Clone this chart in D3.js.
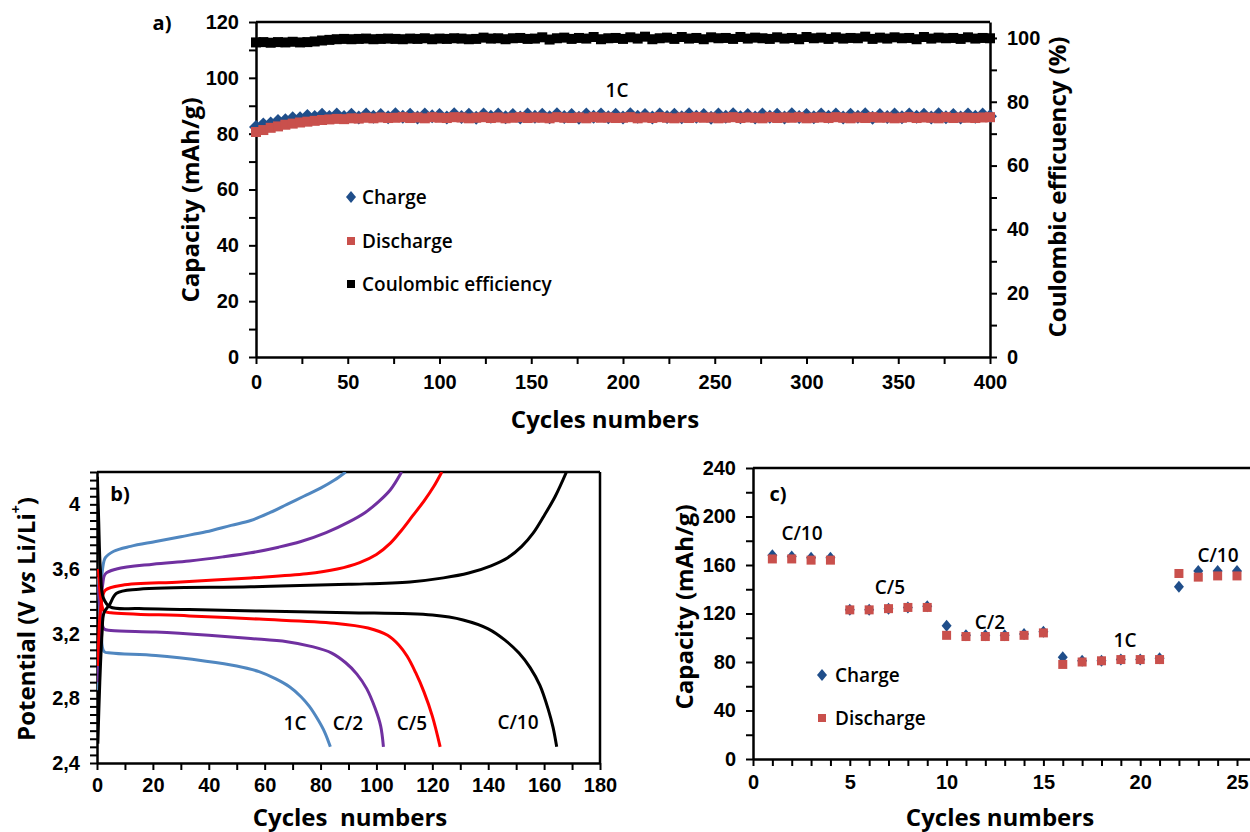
<!DOCTYPE html>
<html lang="en">
<head>
<meta charset="UTF-8">
<title>Capacity / potential charts</title>
<style>
body { margin: 0; background: #fff; }
svg { font-family: 'Open Sans', sans-serif; }
.axis .tick text { font-size: 20px; font-weight: 600; fill: #000; }
.axis path, .axis line { stroke: #000; }
.title { font-size: 24px; font-weight: 700; fill: #000; }
.lab { font-size: 19px; font-weight: 600; fill: #000; }
.panel { font-size: 20px; font-weight: 700; }
</style>
</head>
<body>
<svg id="chart" width="1250" height="832"></svg>
<script src="https://cdnjs.cloudflare.com/ajax/libs/d3/7.8.5/d3.min.js"></script>
<script>
// ---------- data: panel a (1C cycling, one value every 4 cycles) ----------
var cycleStepA = 4;
var chargeA = [
82.4, 83.3, 83.6, 84.5, 84.8, 85.5, 85.5, 86.3, 86.0, 86.8,
86.0, 86.9, 86.0, 86.8, 85.8, 86.9, 86.1, 86.7, 85.9, 87.0,
86.1, 86.8, 85.8, 86.9, 86.2, 86.7, 85.8, 87.0, 86.0, 86.8,
85.7, 86.9, 86.1, 86.9, 85.9, 86.7, 85.8, 86.9, 86.1, 86.8,
85.9, 87.0, 86.0, 86.7, 85.7, 86.9, 86.1, 86.9, 85.9, 86.8,
85.8, 87.0, 86.1, 86.7, 85.8, 86.9, 86.0, 86.8, 85.9, 87.0,
86.1, 86.7, 85.7, 86.9, 86.1, 87.0, 85.9, 86.7, 85.8, 86.9,
86.1, 86.8, 85.8, 87.0, 86.0, 86.7, 85.9, 86.9, 86.1, 86.9,
85.8, 86.8, 86.1, 87.0, 85.7, 86.7, 86.0, 86.9, 85.9, 86.9,
86.1, 86.8, 85.8, 87.0, 85.9, 86.7, 85.8, 86.9, 86.1, 86.9,
86.2];
var dischargeA = [
80.6, 81.3, 82.1, 82.6, 83.2, 83.6, 84.0, 84.3, 84.6, 84.9,
85.1, 85.3, 85.2, 85.5, 85.4, 85.7, 85.5, 85.8, 85.6, 85.7,
85.9, 85.6, 85.8, 85.5, 85.9, 85.7, 85.6, 85.9, 85.8, 85.5,
85.7, 85.9, 85.6, 85.8, 85.5, 85.7, 85.9, 85.6, 85.8, 85.7,
85.5, 85.9, 85.7, 85.6, 85.8, 85.5, 85.9, 85.7, 85.8, 85.6,
85.7, 85.9, 85.5, 85.8, 85.6, 85.9, 85.7, 85.5, 85.8, 85.6,
85.9, 85.7, 85.8, 85.5, 85.7, 85.9, 85.6, 85.8, 85.7, 85.5,
85.9, 85.6, 85.8, 85.7, 85.9, 85.5, 85.7, 85.8, 85.6, 85.9,
85.7, 85.5, 85.8, 85.6, 85.9, 85.7, 85.8, 85.5, 85.7, 85.9,
85.6, 85.8, 85.7, 85.5, 85.9, 85.6, 85.8, 85.7, 85.6, 85.8,
85.9];
var effA = [
98.6, 98.7, 98.5, 98.7, 98.6, 98.8, 98.6, 98.7, 98.9, 99.2,
99.4, 99.6, 99.7, 99.6, 99.7, 99.8, 99.6, 99.7, 99.8, 99.7,
99.6, 99.8, 99.7, 99.9, 99.6, 99.8, 99.7, 99.9, 99.8, 99.6,
99.7, 100.1, 99.8, 99.9, 99.6, 99.9, 100.0, 99.7, 99.8, 100.2,
99.5, 99.9, 100.1, 99.7, 100.0, 99.8, 100.3, 99.6, 99.9, 100.0,
99.7, 100.2, 99.8, 100.4, 99.6, 99.9, 100.1, 99.7, 100.3, 99.8,
100.0, 99.6, 100.2, 99.9, 100.0, 99.7, 100.3, 99.8, 100.1, 99.9,
99.7, 100.2, 99.8, 100.0, 99.6, 100.3, 99.9, 100.1, 99.7, 100.2,
99.8, 100.0, 99.9, 100.4, 99.7, 100.1, 99.8, 100.2, 99.9, 100.0,
99.6, 100.3, 99.8, 100.1, 99.9, 100.0, 99.7, 100.2, 99.8, 100.0,
99.9];

// ---------- data: panel b (potential profiles, [cycle, V]) ----------
var c1Charge = [[0.4,2.85],[1.2,3.35],[2,3.6],[3,3.67],[6,3.71],[12,3.74],[21,3.77],[30,3.8],[39,3.83],[48,3.87],[55,3.9],[62,3.95],[68,4.0],[74,4.05],[80,4.1],[85,4.15],[89,4.2]];
var c1Discharge = [[0.5,3.55],[1.5,3.2],[2.5,3.09],[5,3.08],[21,3.065],[39,3.03],[50,3.0],[58,2.965],[64,2.92],[69,2.87],[73,2.81],[76,2.75],[79,2.67],[81.5,2.59],[83.5,2.5]];
var c2Charge = [[0.4,2.9],[1.2,3.3],[2,3.5],[3,3.57],[7,3.6],[20,3.63],[33,3.65],[45,3.675],[55,3.7],[65,3.735],[73,3.77],[82,3.825],[90,3.89],[96,3.95],[101,4.02],[105,4.09],[109,4.2]];
var c2Discharge = [[0.5,3.5],[1.5,3.3],[2.5,3.23],[5,3.22],[21,3.21],[40,3.19],[55,3.17],[68,3.15],[77,3.12],[84,3.08],[89,3.02],[93,2.95],[96.5,2.86],[99.5,2.74],[101.5,2.63],[102.5,2.5]];
var c5Charge = [[0.4,3.0],[1,3.3],[2,3.43],[3,3.47],[9,3.5],[30,3.52],[55,3.545],[75,3.57],[86,3.6],[94,3.64],[100,3.69],[105,3.76],[109,3.84],[113,3.93],[117,4.02],[120.5,4.11],[123.4,4.2]];
var c5Discharge = [[0.5,3.6],[1.5,3.4],[2.5,3.34],[5,3.33],[33,3.31],[58,3.29],[85,3.265],[97,3.235],[104,3.19],[108,3.13],[111,3.06],[114,2.96],[117,2.84],[120,2.69],[122.8,2.5]];
var c10Charge = [[0.3,2.52],[1,2.9],[1.8,3.2],[2.5,3.33],[4.5,3.38],[7,3.45],[15,3.475],[55,3.49],[90,3.505],[112,3.52],[124,3.545],[133,3.575],[141,3.62],[147,3.67],[152,3.74],[156,3.82],[160,3.93],[164,4.05],[168,4.2]];
var c10Discharge = [[0.15,4.17],[0.6,3.9],[1.2,3.6],[2.3,3.42],[4.7,3.366],[15,3.355],[33,3.35],[58,3.34],[90,3.33],[120,3.315],[131,3.285],[140,3.23],[146,3.16],[151,3.08],[155,2.99],[158.5,2.88],[161.5,2.73],[163.2,2.62],[164.5,2.5]];
var bTickVals = [2.4, 2.8, 3.2, 3.6, 4.0];
var bTickText = ['2,4', '2,8', '3,2', '3,6', '4'];

// ---------- data: panel c (rate capability) ----------
var cyclesC = [1,2,3,4,5,6,7,8,9,10,11,12,13,14,15,16,17,18,19,20,21,22,23,24,25];
var chargeC = [168,167,166,166,123,123,124,125,126,110,102,102,102,103,105,84,81,81,82,82,83,142,155,155,155];
var dischargeC = [165,165,164,164,123,123,124,125,125,102,101,101,101,102,104,78,80,81,82,82,82,153,150,151,151];

var blue = '#1f4e8a';
var red = '#c9504c';

var svg = d3.select('#chart');

function axis(gen, x, y) {
  var g = svg.append('g').attr('class', 'axis')
    .attr('transform', 'translate(' + x + ',' + y + ')')
    .call(gen);
  g.select('.domain').attr('stroke-width', 2.5);
  g.selectAll('.tick line').attr('stroke-width', 2);
  return g;
}
function frame(x1, y1, x2, y2) {
  svg.append('line').attr('x1', x1).attr('y1', y1).attr('x2', x2).attr('y2', y2)
    .attr('stroke', '#000').attr('stroke-width', 2.5);
}
function diamonds(g, data, fx, fy, w, h, color) {
  g.selectAll(null).data(data).enter().append('path')
    .attr('d', 'M0,' + (-h) + 'L' + w + ',0L0,' + h + 'L' + (-w) + ',0Z')
    .attr('transform', function (d, i) { return 'translate(' + fx(d, i) + ',' + fy(d, i) + ')'; })
    .attr('fill', color);
}
function squares(g, data, fx, fy, s, color) {
  g.selectAll(null).data(data).enter().append('rect')
    .attr('x', function (d, i) { return fx(d, i) - s / 2; })
    .attr('y', function (d, i) { return fy(d, i) - s / 2; })
    .attr('width', s).attr('height', s)
    .attr('fill', color);
}
function text(x, y, str, cls, anchor, rot) {
  var t = svg.append('text').attr('class', cls)
    .attr('text-anchor', anchor || 'middle')
    .attr('dominant-baseline', 'central');
  if (rot) t.attr('transform', 'translate(' + x + ',' + y + ') rotate(' + rot + ')');
  else t.attr('x', x).attr('y', y);
  t.text(str);
  return t;
}

// =================== panel a ===================
var xA = d3.scaleLinear().domain([0, 400]).range([256, 990]);
var yA = d3.scaleLinear().domain([0, 120]).range([357, 22]);
var yA2 = d3.scaleLinear().domain([0, 105]).range([357, 22]);

axis(d3.axisBottom(xA).tickValues(d3.range(0, 401, 25)).tickSize(7).tickSizeOuter(0).tickPadding(11)
  .tickFormat(function (d) { return d % 50 === 0 ? d : ''; }), 0, 357);
axis(d3.axisLeft(yA).tickValues(d3.range(0, 121, 10)).tickSize(7).tickSizeOuter(0).tickPadding(10)
  .tickFormat(function (d) { return d % 20 === 0 ? d : ''; }), 256, 0);
axis(d3.axisRight(yA2).tickValues(d3.range(0, 101, 10)).tickSize(7).tickSizeOuter(0).tickPadding(10)
  .tickFormat(function (d) { return d % 20 === 0 ? d : ''; }), 990, 0);
frame(256, 22, 990, 22);

var gA = svg.append('g');
diamonds(gA, chargeA, function (d, i) { return xA(i * cycleStepA); }, function (d) { return yA(d); }, 7, 7, blue);
squares(gA, dischargeA, function (d, i) { return xA(i * cycleStepA); }, function (d) { return yA(d); }, 10, red);
squares(gA, effA, function (d, i) { return xA(i * cycleStepA); }, function (d) { return yA2(d); }, 10, '#000');

text(189, 200, 'Capacity (mAh/g)', 'title', 'middle', -90);
text(1056, 187, 'Coulombic efficuency (%)', 'title', 'middle', -90);
text(605, 418, 'Cycles numbers', 'title');
text(162, 22, 'a)', 'panel');
text(617, 90, '1C', 'lab');

var legA = svg.append('g');
diamonds(legA, [0], function () { return 351; }, function () { return 197; }, 5, 6, blue);
squares(legA, [0], function () { return 351; }, function () { return 241; }, 8, red);
squares(legA, [0], function () { return 351; }, function () { return 284; }, 8, '#000');
text(362, 197, 'Charge', 'lab', 'start');
text(362, 241, 'Discharge', 'lab', 'start');
text(362, 284, 'Coulombic efficiency', 'lab', 'start');

// =================== panel b ===================
var xB = d3.scaleLinear().domain([0, 180]).range([97, 600]);
var yB = d3.scaleLinear().domain([2.4, 4.2]).range([763, 472]);

axis(d3.axisBottom(xB).tickValues(d3.range(0, 181, 10)).tickSize(7).tickSizeOuter(0).tickPadding(8)
  .tickFormat(function (d) { return d % 20 === 0 ? d : ''; }), 0, 763);
axis(d3.axisLeft(yB).tickValues(d3.range(0, 37).map(function (i) { return Math.round((2.4 + i * 0.05) * 100) / 100; }))
  .tickSize(7).tickSizeOuter(0).tickPadding(10)
  .tickFormat(function (d) {
    var k = bTickVals.findIndex(function (v) { return Math.abs(v - d) < 1e-6; });
    return k < 0 ? '' : bTickText[k];
  }), 97, 0);
frame(97, 472, 600, 472);
frame(600, 472, 600, 763);

svg.append('clipPath').attr('id', 'clipB').append('rect')
  .attr('x', 97).attr('y', 472).attr('width', 503).attr('height', 291);
var lineB = d3.line().x(function (d) { return xB(d[0]); }).y(function (d) { return yB(d[1]); })
  .curve(d3.curveCatmullRom.alpha(0.5));
var gB = svg.append('g').attr('clip-path', 'url(#clipB)');
var curvesB = [
  [c1Charge, '#5087c0'], [c1Discharge, '#5087c0'],
  [c2Charge, '#7030a0'], [c2Discharge, '#7030a0'],
  [c5Charge, '#ff0000'], [c5Discharge, '#ff0000'],
  [c10Charge, '#000'], [c10Discharge, '#000']
];
curvesB.forEach(function (c) {
  gB.append('path').datum(c[0]).attr('d', lineB)
    .attr('fill', 'none').attr('stroke', c[1]).attr('stroke-width', 3);
});

text(295, 723, '1C', 'lab').attr('fill', '#4a78b0');
text(348, 723, 'C/2', 'lab').attr('fill', '#7030a0');
text(412, 723, 'C/5', 'lab').attr('fill', '#ff0000');
text(518, 722, 'C/10', 'lab');
text(120, 493, 'b)', 'panel');

var potT = svg.append('text').attr('class', 'title').attr('text-anchor', 'middle')
  .attr('dominant-baseline', 'central').attr('transform', 'translate(25,619) rotate(-90)');
potT.append('tspan').text('Potential (V ');
potT.append('tspan').attr('font-style', 'italic').text('vs');
potT.append('tspan').text(' Li/Li');
potT.append('tspan').attr('font-size', '14px').attr('baseline-shift', 'super').text('+');
potT.append('tspan').text(')');
text(350, 816, 'Cycles  numbers', 'title').style('white-space', 'pre');

// =================== panel c ===================
var xC = d3.scaleLinear().domain([0, 26]).range([753, 753 + 26 * 19.36]);
var yC = d3.scaleLinear().domain([0, 240]).range([759, 468]);

axis(d3.axisBottom(xC).tickValues(d3.range(0, 27)).tickSize(7).tickSizeOuter(0).tickPadding(9)
  .tickFormat(function (d) { return d % 5 === 0 && d <= 25 ? d : ''; }), 0, 759);
axis(d3.axisLeft(yC).tickValues(d3.range(0, 241, 20)).tickSize(7).tickSizeOuter(0).tickPadding(10)
  .tickFormat(function (d) { return d % 40 === 0 ? d : ''; }), 753, 0);
frame(753, 468, 1250, 468);

var gC = svg.append('g');
diamonds(gC, chargeC, function (d, i) { return xC(cyclesC[i]); }, function (d) { return yC(d); }, 5, 6, blue);
squares(gC, dischargeC, function (d, i) { return xC(cyclesC[i]); }, function (d) { return yC(d); }, 9, red);

text(802, 533, 'C/10', 'lab');
text(890, 587, 'C/5', 'lab');
text(990, 622, 'C/2', 'lab');
text(1125, 640, '1C', 'lab');
text(1218, 555, 'C/10', 'lab');
text(778, 493, 'c)', 'panel');

var legC = svg.append('g');
diamonds(legC, [0], function () { return 822; }, function () { return 675; }, 5, 6, blue);
squares(legC, [0], function () { return 822; }, function () { return 718; }, 8, red);
text(835, 675, 'Charge', 'lab', 'start');
text(835, 718, 'Discharge', 'lab', 'start');

text(683, 607, 'Capacity (mAh/g)', 'title', 'middle', -90);
text(1000, 816, 'Cycles numbers', 'title');
</script>
</body>
</html>
